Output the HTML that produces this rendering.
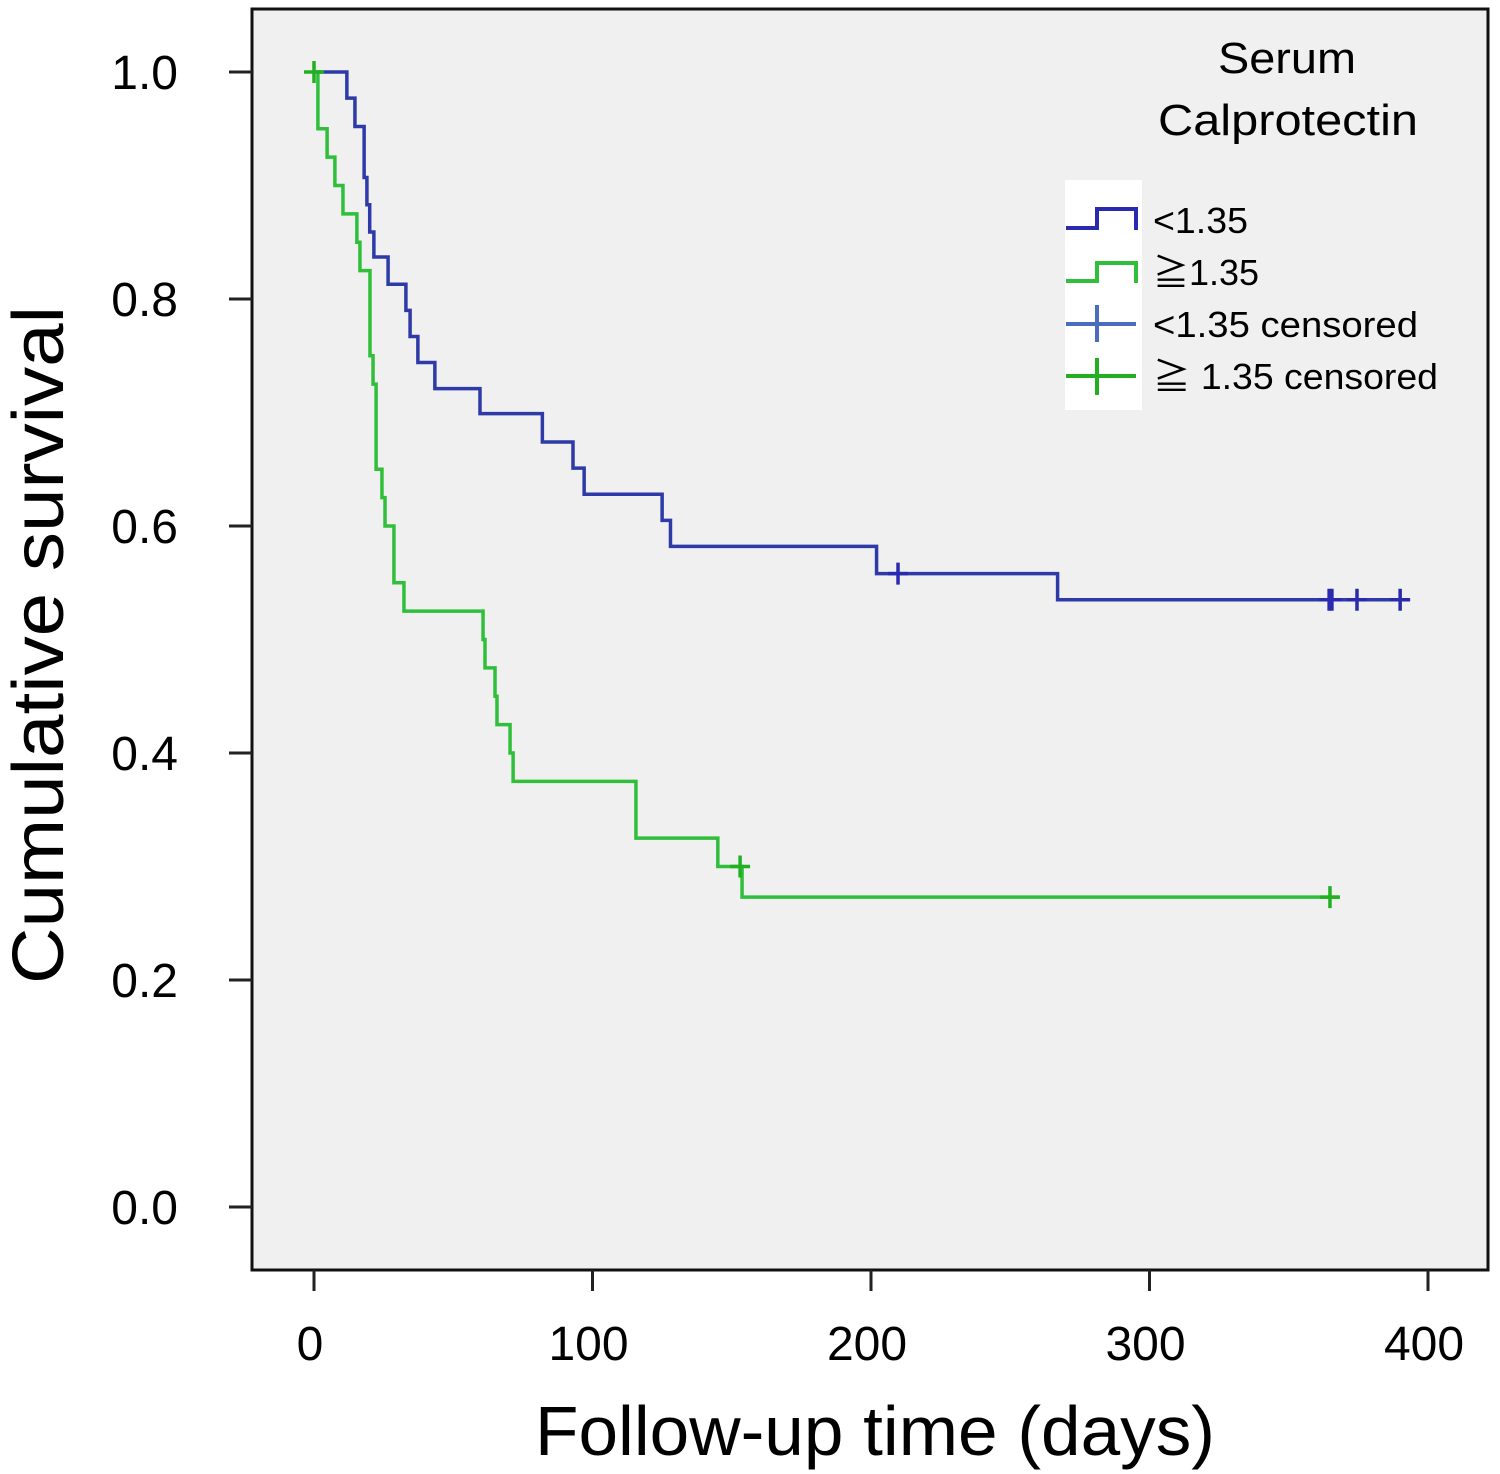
<!DOCTYPE html>
<html><head><meta charset="utf-8"><style>
html,body{margin:0;padding:0;background:#fff;}
svg{display:block;font-family:"Liberation Sans","Noto Sans CJK JP",sans-serif;}
</style></head><body>
<svg id="chart" width="1500" height="1474" viewBox="0 0 1500 1474" xmlns="http://www.w3.org/2000/svg">
<rect x="252" y="9" width="1236" height="1261" fill="#f0f0f0" stroke="#111" stroke-width="3"/>
<g id="axes"></g>
<g id="series"></g>
<text transform="translate(63,645) rotate(-90)" text-anchor="middle" font-size="72" textLength="678" lengthAdjust="spacingAndGlyphs">Cumulative survival</text>
<text x="875" y="1455" text-anchor="middle" font-size="70" textLength="680" lengthAdjust="spacingAndGlyphs">Follow-up time (days)</text>
<g>
<text x="1287" y="73" text-anchor="middle" font-size="44" textLength="138" lengthAdjust="spacingAndGlyphs">Serum</text>
<text x="1288" y="135" text-anchor="middle" font-size="44" textLength="260" lengthAdjust="spacingAndGlyphs">Calprotectin</text>
<rect x="1065" y="180" width="77" height="230" fill="#fff"/>
<polyline points="1066,228 1097,228 1097,209 1136,209 1136,230" fill="none" stroke="#2a2ab0" stroke-width="4"/>
<polyline points="1066,281 1097,281 1097,263 1136,263 1136,283" fill="none" stroke="#2fbf3a" stroke-width="4"/>
<path d="M1066 324H1136M1097 305V342" stroke="#4a6cc0" stroke-width="4"/>
<path d="M1066 376H1136M1097 358V395" stroke="#22b022" stroke-width="4"/>
<text x="1153" y="233" font-size="36" textLength="95" lengthAdjust="spacingAndGlyphs">&lt;1.35</text>
<text x="1153" y="285" font-size="36" textLength="106" lengthAdjust="spacingAndGlyphs">≧1.35</text>
<text x="1153" y="337" font-size="36" textLength="265" lengthAdjust="spacingAndGlyphs">&lt;1.35 censored</text>
<text x="1153" y="389" font-size="36" textLength="285" lengthAdjust="spacingAndGlyphs">≧ 1.35 censored</text>
</g>
</svg>
<script>
const xTicks = [0, 100, 200, 300, 400];
const xTickLabels = ["0", "100", "200", "300", "400"];
const yTicks = [0, 0.2, 0.4, 0.6, 0.8, 1.0];
const yTickLabels = ["0.0", "0.2", "0.4", "0.6", "0.8", "1.0"];
const lowTimes = [11.8, 14.7, 18, 19, 20, 21.5, 26.6, 33, 34.5, 37.3, 43.4, 59.6, 82, 93, 97, 125, 128, 202, 267];
const lowSurv = [0.977, 0.952, 0.907, 0.883, 0.859, 0.837, 0.813, 0.790, 0.767, 0.744, 0.721, 0.699, 0.674, 0.651, 0.628, 0.605, 0.582, 0.558, 0.535];
const lowEnd = 392;
const lowCensorTimes = [209.7, 364.5, 365.5, 374.5, 390];
const highTimes = [1.4, 4.7, 7.5, 10.4, 15.4, 16.5, 20.1, 21.2, 22.3, 24.4, 25.5, 28.7, 32.3, 60.7, 61.4, 65, 65.7, 70.4, 71.5, 115.6, 145, 153.7];
const highSurv = [0.95, 0.925, 0.90, 0.875, 0.85, 0.825, 0.75, 0.725, 0.65, 0.625, 0.60, 0.55, 0.525, 0.50, 0.475, 0.45, 0.425, 0.40, 0.375, 0.325, 0.30, 0.273];
const highEnd = 368;
const highCensorTimes = [0, 153, 364.8];

const NS = "http://www.w3.org/2000/svg";
function xs(d){ return 314 + d * 2.785; }
function ys(s){ return 1207 - s * 1135; }
function survAt(times, surv, t){ let s = 1; for (let i = 0; i < times.length; i++){ if (times[i] <= t) s = surv[i]; } return s; }

const axes = document.getElementById('axes');
yTicks.forEach((v, i) => {
  const l = document.createElementNS(NS, 'line');
  
  
  l.setAttribute('x1', 229); l.setAttribute('x2', 252);
  l.setAttribute('y1', ys(v)); l.setAttribute('y2', ys(v));
  l.setAttribute('stroke', '#222'); l.setAttribute('stroke-width', 3);
  axes.appendChild(l);
  const t = document.createElementNS(NS, 'text');
  
  
  t.setAttribute('x', 178); t.setAttribute('y', ys(v) + 17);
  t.setAttribute('text-anchor', 'end'); t.setAttribute('font-size', 48);
  t.textContent = yTickLabels[i];
  axes.appendChild(t);
});
xTicks.forEach((v, i) => {
  const l = document.createElementNS(NS, 'line');
  
  
  l.setAttribute('x1', xs(v)); l.setAttribute('x2', xs(v));
  l.setAttribute('y1', 1270); l.setAttribute('y2', 1291);
  l.setAttribute('stroke', '#222'); l.setAttribute('stroke-width', 3);
  axes.appendChild(l);
  const t = document.createElementNS(NS, 'text');
  
  
  t.setAttribute('x', xs(v) - 4); t.setAttribute('y', 1360);
  t.setAttribute('text-anchor', 'middle'); t.setAttribute('font-size', 48);
  t.textContent = xTickLabels[i];
  axes.appendChild(t);
});

const series = document.getElementById('series');
function stepPath(times, surv, end){
  let d = 'M' + xs(0) + ' ' + ys(1);
  let s = 1;
  for (let i = 0; i < times.length; i++){
    d += ' H' + xs(times[i]) + ' V' + ys(surv[i]);
    s = surv[i];
  }
  d += ' H' + xs(end);
  return d;
}
function drawSeries(name, times, surv, end, color, censors, censorColor){
  const p = document.createElementNS(NS, 'path');
  
  
  p.setAttribute('d', stepPath(times, surv, end));
  p.setAttribute('fill', 'none'); p.setAttribute('stroke', color); p.setAttribute('stroke-width', 3.5);
  series.appendChild(p);
  censors.forEach(t => {
    const s = survAt(times, surv, t);
    const c = document.createElementNS(NS, 'path');
    
    
    const x = xs(t), y = ys(s);
    c.setAttribute('d', 'M' + (x - 10) + ' ' + y + 'H' + (x + 10) + 'M' + x + ' ' + (y - 11) + 'V' + (y + 11));
    c.setAttribute('stroke', censorColor); c.setAttribute('stroke-width', 3.5);
    series.appendChild(c);
  });
}
drawSeries('low-calprotectin', lowTimes, lowSurv, lowEnd, '#2e3aa8', lowCensorTimes, '#2a2ab0');
drawSeries('high-calprotectin', highTimes, highSurv, highEnd, '#2fbf3a', highCensorTimes, '#22b022');
</script>
</body></html>
